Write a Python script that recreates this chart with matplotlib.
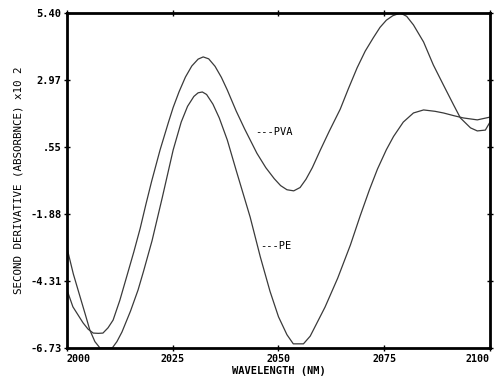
import numpy as np
import matplotlib
matplotlib.use("Agg")
import matplotlib.pyplot as plt

pva_x = [2000, 2001.4, 2003.8, 2005, 2006.2, 2007.4, 2008.5, 2009.7, 2010.9, 2012.5, 2014.2, 2015.8,
         2017.3, 2018.7, 2020, 2022, 2024, 2025.1, 2026.5, 2028, 2029.5, 2031, 2032.2, 2033.5, 2035,
         2036.5, 2037.9, 2040, 2042, 2044.9, 2047, 2049, 2050.5, 2052, 2053.6, 2055.1, 2056.5,
         2058, 2059.9, 2062, 2064.6, 2066.5, 2068.6, 2070.5, 2072.4, 2074, 2075.5, 2077,
         2078.8, 2080.3, 2081.9, 2084.3, 2086.6, 2089, 2091.4, 2093, 2095.4, 2097, 2098.9, 2100]
pva_y = [-4.63, -5.24, -5.82, -6.05, -6.19, -6.2, -6.19, -6.0, -5.72, -5.0, -4.1, -3.25,
         -2.4, -1.5, -0.7, 0.44, 1.45, 1.98, 2.55, 3.08, 3.48, 3.73, 3.81, 3.74, 3.47,
         3.07, 2.61, 1.85, 1.2, 0.32, -0.2, -0.6, -0.85, -1.0, -1.04, -0.92, -0.62,
         -0.2, 0.44, 1.12, 1.92, 2.65, 3.42, 4.02, 4.5, 4.88, 5.14, 5.3,
         5.40, 5.28, 4.97, 4.35, 3.52, 2.79, 2.07, 1.60, 1.24, 1.13, 1.16, 1.45]

pe_x = [2000, 2001.5, 2003.1, 2004.3, 2005.4, 2006.6, 2007.8, 2010.7, 2011.8, 2013, 2015,
        2016.8, 2018.1, 2020.1, 2022.5, 2025.1, 2027, 2028.5, 2030, 2031, 2032, 2033,
        2034.5, 2036, 2037.9, 2040, 2043.3, 2045.7, 2048, 2050, 2052, 2053.5, 2055.9,
        2057.5, 2059, 2061, 2064, 2067, 2069.3, 2071.5, 2073.4, 2075.5, 2077.2, 2079.5,
        2081.9, 2084.3, 2087, 2089, 2091.5, 2093.7, 2097, 2100]
pe_y = [-3.11, -4.05, -4.88, -5.5, -6.08, -6.5, -6.73, -6.73, -6.5, -6.15, -5.4,
        -4.63, -3.95, -2.85, -1.3, 0.44, 1.45, 2.02, 2.38, 2.51, 2.54, 2.45,
        2.1, 1.6, 0.80, -0.3, -1.99, -3.43, -4.68, -5.6, -6.25, -6.58, -6.58,
        -6.3, -5.85, -5.25, -4.2, -3.0, -1.95, -1.0, -0.25, 0.45, 0.93, 1.45,
        1.78, 1.89, 1.84, 1.78, 1.68, 1.60, 1.53, 1.63]

x_ticks = [2000, 2025, 2050, 2075, 2100]
y_ticks = [5.40, 2.97, 0.55, -1.88, -4.31, -6.73]
y_tick_labels = ["5.40", "2.97", ".55", "-1.88", "-4.31", "-6.73"]

font = "DejaVu Sans Mono"

fig = plt.figure(figsize=(4.94, 3.78), dpi=100)
ax = fig.add_axes([0.1356, 0.0794, 0.8563, 0.8862])

ax.plot(pva_x, pva_y, color="#3a3a3a", lw=0.9)
ax.plot(pe_x, pe_y, color="#3a3a3a", lw=0.9)

ax.set_xlim(2000, 2100)
ax.set_ylim(-6.73, 5.40)
ax.set_xticks(x_ticks)
xl = ax.set_xticklabels([str(v) for v in x_ticks], fontfamily=font, fontsize=7.2, fontweight="bold")
xl[0].set_ha("left")
xl[-1].set_ha("right")
ax.set_yticks(y_ticks)
ax.set_yticklabels(y_tick_labels, fontfamily=font, fontsize=7.5, fontweight="bold")
ax.tick_params(direction="inout", length=5, width=1, top=True, right=True, pad=1.5)
for s in ax.spines.values():
    s.set_linewidth(2)

ax.set_xlabel("WAVELENGTH (NM)", fontfamily=font, fontsize=7.5, fontweight="bold", labelpad=2)
ax.set_ylabel("SECOND DERIVATIVE (ABSORBNCE) x10 2", fontfamily=font, fontsize=7.8, labelpad=5)

ax.text(2044.5, 1.09, "---PVA", fontfamily=font, fontsize=7.5, va="center", ha="left")
ax.text(2045.7, -3.04, "---PE", fontfamily=font, fontsize=7.5, va="center", ha="left")

fig.savefig("out.png", dpi=100)
